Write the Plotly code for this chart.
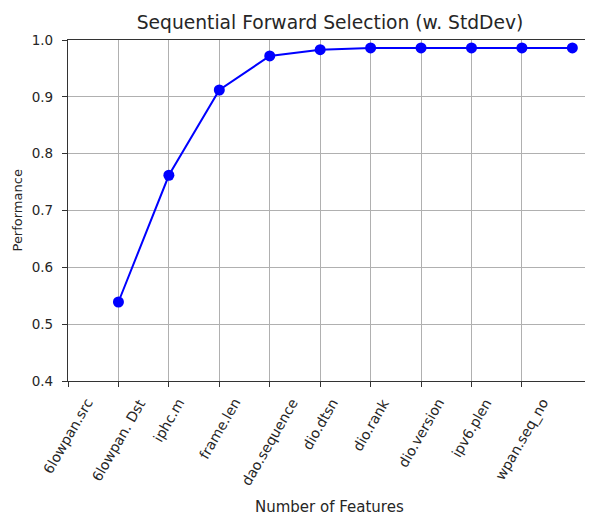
import plotly.graph_objects as go

features = ["6lowpan.src", "6lowpan. Dst", "iphc.m", "frame.len", "dao.sequence",
            "dio.dtsn", "dio.rank", "dio.version", "ipv6.plen", "wpan.seq_no"]
tick_positions = list(range(len(features)))
n_features = [1, 2, 3, 4, 5, 6, 7, 8, 9, 10]
performance = [0.539, 0.762, 0.912, 0.972, 0.983, 0.986, 0.986, 0.986, 0.986, 0.986]
y_ticks = [0.4, 0.5, 0.6, 0.7, 0.8, 0.9, 1.0]
y_tick_labels = ["0.4", "0.5", "0.6", "0.7", "0.8", "0.9", "1.0"]

FONT = "DejaVu Sans"
TXT = "#262626"

fig = go.Figure()
fig.add_trace(go.Scatter(
    x=n_features, y=performance, mode="lines+markers",
    line=dict(color="#0000ff", width=2),
    marker=dict(color="#0000ff", size=11),
    showlegend=False,
))

annotations = []
for pos, lab in zip(tick_positions, features):
    annotations.append(dict(
        x=pos, y=0, xref="x", yref="paper", text=lab, showarrow=False,
        textangle=-60, xanchor="center", yanchor="top", yshift=-12,
        font=dict(family=FONT, size=14, color=TXT),
    ))
annotations.append(dict(
    x=0.5, y=0, xref="paper", yref="paper", yanchor="top", yshift=-115,
    text="Number of Features", showarrow=False,
    font=dict(family=FONT, size=15, color=TXT),
))
annotations.append(dict(
    x=0, y=0.5, xref="paper", yref="paper", xanchor="center", yanchor="middle",
    xshift=-51, textangle=-90, text="Performance", showarrow=False,
    font=dict(family=FONT, size=13, color=TXT),
))

fig.update_layout(
    width=593, height=515,
    margin=dict(l=60, r=11, t=32, b=142),
    paper_bgcolor="white", plot_bgcolor="white",
    title=dict(text="Sequential Forward Selection (w. StdDev)", x=322 / 593, xanchor="center",
               y=0.971, yanchor="middle", yref="container",
               font=dict(family=FONT, size=18.7, color=TXT)),
    annotations=annotations,
    xaxis=dict(range=[0, 10.35], tickvals=tick_positions, showticklabels=False,
               ticks="outside", ticklen=5, tickcolor="#333", tickwidth=1,
               showgrid=True, gridcolor="#b0b0b0", gridwidth=1,
               showline=True, linecolor="#333", linewidth=1.3, mirror=True,
               zeroline=False, automargin=False),
    yaxis=dict(range=[0.4, 1.0], tickvals=y_ticks, ticktext=y_tick_labels,
               ticks="outside", ticklen=5, tickcolor="#333", tickwidth=1,
               tickfont=dict(family=FONT, size=13.5, color=TXT),
               ticklabelstandoff=6,
               showgrid=True, gridcolor="#b0b0b0", gridwidth=1,
               showline=True, linecolor="#333", linewidth=1.3, zeroline=False,
               automargin=False),
    shapes=[dict(type="line", xref="paper", yref="paper", x0=1, x1=1, y0=0, y1=1,
                 line=dict(color="#d8d8d8", width=1))],
)

fig.write_html("out.html")
